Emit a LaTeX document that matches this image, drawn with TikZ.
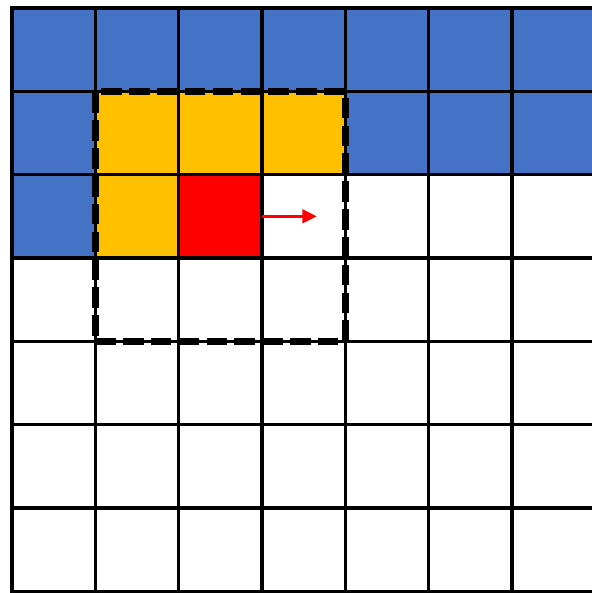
\documentclass[tikz,border=0pt]{standalone}
\usepackage{tikz}
\usetikzlibrary{arrows.meta, positioning, fit}
\definecolor{cellBlue}{HTML}{4472C4}
\definecolor{cellGold}{HTML}{FFC000}
\definecolor{cellRed}{HTML}{FF0000}

\begin{document}
\begin{tikzpicture}[
  cell/.style={draw=black, line width=1.2pt, fill=white, minimum size=1cm,
               inner sep=0pt, outer sep=0pt},
  done/.style={cell, fill=cellBlue},
  ctx/.style={cell, fill=cellGold},
  cur/.style={cell, fill=cellRed},
  window/.style={draw=black, line width=2.2pt, dash pattern=on 7pt off 2.5pt,
                 inner sep=0pt},
  move/.style={draw=cellRed, line width=1.2pt, -{Triangle[length=5pt, width=4.5pt]}},
]
\useasboundingbox (-0.144,0.096) rectangle (6.95,-7.02);

% plain grid
\foreach \r in {0,...,6}
  \foreach \c in {0,...,6}
    \node[cell] (c\r\c) at (\c+0.5,-\r-0.5) {};

% already generated
\foreach \r/\c in {0/0,0/1,0/2,0/3,0/4,0/5,0/6,1/0,1/4,1/5,1/6,2/0}
  \node[done] (c\r\c) at (\c+0.5,-\r-0.5) {};

% context inside the window
\foreach \r/\c in {1/1,1/2,1/3,2/1}
  \node[ctx] (c\r\c) at (\c+0.5,-\r-0.5) {};

% current pixel
\node[cur] (c22) at (2.5,-2.5) {};

% window and step
\node[window, fit=(c11)(c33)] (win) {};
\coordinate[right=0.66cm of c22.east] (next);
\draw[move] (c22.east) -- (next);
\end{tikzpicture}
\end{document}
